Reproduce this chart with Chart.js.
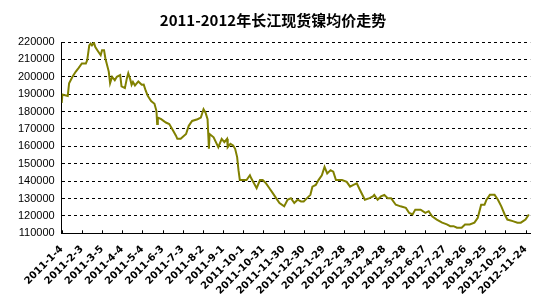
<!DOCTYPE html>
<html>
<head>
<meta charset="utf-8">
<script src="https://cdn.jsdelivr.net/npm/chart.js@4.4.1/dist/chart.umd.min.js"></script>
<style>
  html, body { margin: 0; padding: 0; background: #fff; }
  .chart-container { position: relative; width: 536px; height: 305px; }
</style>
</head>
<body>
<div class="chart-container">
  <canvas id="myChart"></canvas>
</div>
<script>
// dias desde 2011-1-4
var days = [0, 1, 9, 11, 16, 21, 25, 30, 36, 38, 41, 43, 45, 48, 50, 53, 58, 60, 63, 65,
  70, 72, 75, 79, 82, 87, 89, 94, 97, 99, 102, 104, 106, 109, 114, 119, 122, 125, 128, 133,
  138, 141, 142, 143, 148, 155, 160, 165, 170, 172, 177, 185, 189, 194, 202, 207, 211, 214, 217, 219,
  220, 226, 233, 238, 242, 246, 247, 251, 255, 258, 261, 263, 265, 275, 280, 282, 290, 295, 299, 304,
  309, 314, 319, 324, 331, 336, 341, 346, 351, 356, 360, 365, 370, 373, 378, 382, 387, 391, 395, 400,
  404, 408, 417, 424, 429, 434, 439, 443, 451, 458, 463, 465, 470, 475, 480, 485, 490, 497, 504, 512,
  517, 522, 526, 534, 541, 546, 551, 558, 566, 573, 578, 583, 588, 595, 600, 607, 614, 619, 624, 629,
  632, 637, 644, 649, 654, 659, 663, 671, 678, 683, 690, 695];

var prices = [185000, 189800, 189000, 196300, 200000, 203000, 205000, 207700, 207700, 209600,
  218000, 219000, 218000, 219500, 217100, 215300, 212400, 215300, 215300, 210500,
  203000, 196300, 200000, 198000, 200000, 201000, 194500, 193500, 199200, 202000,
  198500, 195400, 197000, 195000, 197300, 195400, 195500, 192000, 189000, 186000,
  184500, 180300, 172800, 176500, 175600, 173700, 172800, 169500, 166100, 164300,
  164300, 167100, 171800, 174600, 175600, 176500, 181300, 179300, 175600, 158600,
  167100, 165200, 159500, 164300, 162400, 164300, 159500, 161400, 160500, 158600,
  153800, 146300, 140600, 140600, 143400, 141600, 135900, 140600, 140600, 138700,
  135900, 133100, 130200, 127400, 125500, 129300, 130200, 127400, 129300, 128300,
  128300, 130200, 132100, 136800, 137800, 140600, 143400, 148200, 144400, 146300,
  145400, 140600, 140600, 139600, 136800, 137800, 138700, 135500, 129300, 130200,
  131200, 132100, 129300, 131200, 132100, 130200, 130200, 126400, 125500, 124600,
  121700, 120800, 123600, 123600, 121700, 122700, 119800, 117900, 116100, 115100,
  114100, 114100, 113200, 113200, 115100, 115100, 116100, 118900, 126400, 126400,
  129300, 132100, 132100, 129300, 125500, 120800, 117900, 117000, 116100, 116100,
  117900, 120800];

var tickLabels = ['2011-1-4', '2011-2-3', '2011-3-5', '2011-4-4', '2011-5-4', '2011-6-3',
  '2011-7-3', '2011-8-2', '2011-9-1', '2011-10-1', '2011-10-31', '2011-11-30',
  '2011-12-30', '2012-1-29', '2012-2-28', '2012-3-29', '2012-4-28', '2012-5-28',
  '2012-6-27', '2012-7-27', '2012-8-26', '2012-9-25', '2012-10-25', '2012-11-24'];

var tickStep = 30;

var points = days.map(function(d, i) { return { x: d, y: prices[i] }; });

// marcas do eixo X desenhadas para dentro
var innerTicks = {
  id: 'innerTicks',
  afterDatasetsDraw: function(chart) {
    var xs = chart.scales.x;
    var ctx = chart.ctx;
    var bottom = chart.chartArea.bottom;
    ctx.save();
    ctx.strokeStyle = '#000';
    ctx.lineWidth = 1;
    ctx.beginPath();
    tickLabels.forEach(function(l, i) {
      var px = Math.round(xs.getPixelForValue(i * tickStep)) + 0.5;
      ctx.moveTo(px, bottom);
      ctx.lineTo(px, bottom - 3);
    });
    ctx.stroke();
    ctx.restore();
  }
};

var ctx = document.getElementById('myChart').getContext('2d');
new Chart(ctx, {
  type: 'line',
  data: {
    datasets: [{
      data: points,
      borderColor: '#808000',
      borderWidth: 2,
      pointRadius: 0,
      tension: 0,
      fill: false
    }]
  },
  options: {
    responsive: true,
    maintainAspectRatio: false,
    animation: false,
    layout: { padding: { left: 11, right: 1, top: 0, bottom: 6 } },
    plugins: {
      legend: { display: false },
      tooltip: { enabled: false },
      title: {
        display: true,
        text: '2011-2012年长江现货镍均价走势',
        color: '#000',
        font: { family: '"Noto Sans CJK SC"', size: 15, weight: 'bold' },
        padding: { top: 11, bottom: 13 }
      }
    },
    scales: {
      x: {
        type: 'linear',
        min: 0,
        max: 697,
        afterBuildTicks: function(scale) {
          scale.ticks = tickLabels.map(function(l, i) { return { value: i * tickStep }; });
        },
        ticks: {
          autoSkip: false,
          minRotation: 45,
          maxRotation: 45,
          padding: 2,
          color: '#000',
          font: { family: '"DejaVu Sans"', size: 10, weight: 'bold' },
          callback: function(v) { return tickLabels[Math.round(v / tickStep)]; }
        },
        grid: { display: false },
        border: { display: true, color: '#000', width: 1 }
      },
      y: {
        min: 110000,
        max: 220000,
        ticks: {
          stepSize: 10000,
          padding: 7,
          color: '#000',
          font: { family: '"Liberation Sans"', size: 11 },
          callback: function(v) { return String(v); }
        },
        grid: {
          color: '#000',
          drawTicks: false,
          lineWidth: function(c) { return c.tick && c.tick.value === 110000 ? 0 : 1; }
        },
        border: { display: true, color: '#000', width: 1, dash: [3, 3] }
      }
    }
  },
  plugins: [innerTicks]
});
</script>
</body>
</html>
